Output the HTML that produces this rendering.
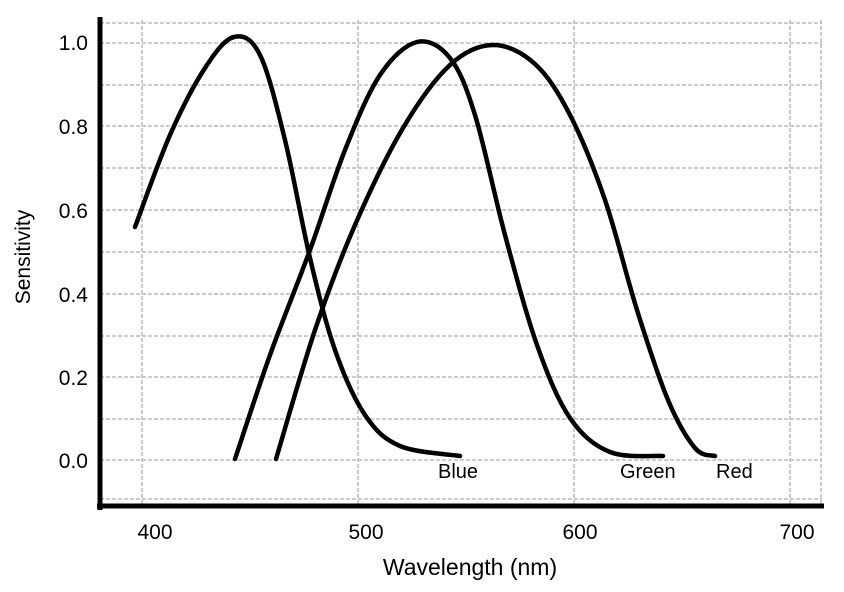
<!DOCTYPE html>
<html><head><style>
html,body{margin:0;padding:0;background:#fff;}
svg{display:block;font-family:"Liberation Sans","DejaVu Sans",sans-serif;}
</style></head><body>
<svg id="s" width="844" height="592" viewBox="0 0 844 592">
<g stroke="#bbb" stroke-width="1.5" stroke-dasharray="4 2" fill="none">
<line x1="100" y1="23" x2="822" y2="23"/><line x1="100" y1="43" x2="822" y2="43"/>
<line x1="100" y1="85" x2="822" y2="85"/><line x1="100" y1="126" x2="822" y2="126"/>
<line x1="100" y1="168" x2="822" y2="168"/><line x1="100" y1="210" x2="822" y2="210"/>
<line x1="100" y1="252" x2="822" y2="252"/><line x1="100" y1="294" x2="822" y2="294"/>
<line x1="100" y1="336" x2="822" y2="336"/><line x1="100" y1="377" x2="822" y2="377"/>
<line x1="100" y1="419" x2="822" y2="419"/><line x1="100" y1="460" x2="822" y2="460"/>
<line x1="100" y1="499" x2="822" y2="499"/>
<line x1="142" y1="20" x2="142" y2="505"/><line x1="358" y1="20" x2="358" y2="505"/>
<line x1="574" y1="20" x2="574" y2="505"/><line x1="790" y1="20" x2="790" y2="505"/>
<line x1="821" y1="20" x2="821" y2="505"/>
</g>
<line x1="100" y1="17" x2="100" y2="510" stroke="#000" stroke-width="5"/>
<line x1="97" y1="506" x2="824" y2="506" stroke="#000" stroke-width="5"/>
<g id="curves" fill="none" stroke="#000" stroke-width="4.5" stroke-linecap="round" stroke-linejoin="round"></g>
<g font-size="21" fill="#000" text-anchor="end">
<text x="88" y="50">1.0</text><text x="88" y="134">0.8</text><text x="88" y="218">0.6</text>
<text x="88" y="302">0.4</text><text x="88" y="385">0.2</text><text x="88" y="468">0.0</text>
</g>
<g font-size="21" fill="#000" text-anchor="middle">
<text x="155" y="539">400</text><text x="366" y="539">500</text><text x="580" y="539">600</text><text x="797" y="539">700</text>
</g>
<text x="470" y="575" font-size="23" text-anchor="middle" fill="#000">Wavelength (nm)</text>
<text transform="translate(30,257) rotate(-90)" font-size="21" text-anchor="middle" fill="#000">Sensitivity</text>
<g font-size="20" fill="#000">
<text x="438" y="478">Blue</text><text x="620" y="478">Green</text><text x="716" y="478">Red</text>
</g>
</svg>
<script>
function cr(p){var d="M"+p[0][0]+","+p[0][1];for(var i=0;i<p.length-1;i++){var p0=p[i-1]||p[i],p1=p[i],p2=p[i+1],p3=p[i+2]||p2;
d+=" C"+(p1[0]+(p2[0]-p0[0])/6)+","+(p1[1]+(p2[1]-p0[1])/6)+" "+(p2[0]-(p3[0]-p1[0])/6)+","+(p2[1]-(p3[1]-p1[1])/6)+" "+p2[0]+","+p2[1];}return d;}
var C=[
[[135,227],[170,135],[205,68],[234,37],[260,55],[285,140],[310,258],[335,350],[365,415],[400,446],[460,456]],
[[235,459],[270,355],[310,250],[345,150],[380,75],[417,42],[450,58],[475,115],[505,235],[537,345],[570,418],[610,452],[663,456]],
[[276,459],[315,330],[355,225],[403,128],[450,65],[493,45],[535,64],[570,115],[605,200],[637,310],[668,400],[695,448],[715,456]]];
var g=document.getElementById("curves");
C.forEach(function(p){var e=document.createElementNS("http://www.w3.org/2000/svg","path");e.setAttribute("d",cr(p));g.appendChild(e);});
</script>
</body></html>
